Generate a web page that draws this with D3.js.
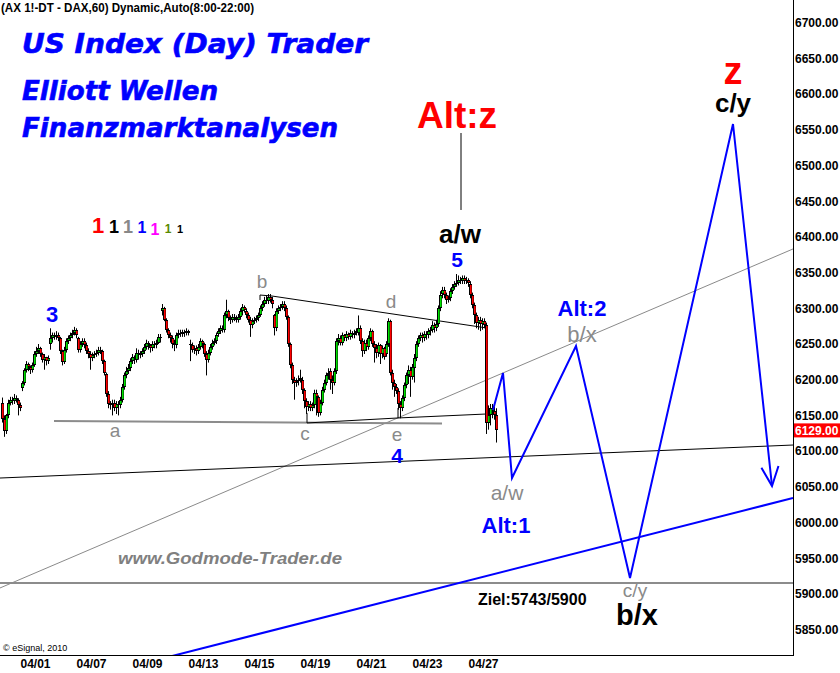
<!DOCTYPE html>
<html><head><meta charset="utf-8">
<script src="https://cdn.jsdelivr.net/npm/d3@7"></script>
<style>body{margin:0;background:#fff}svg{display:block}</style>
</head><body>
<svg id="c" width="840" height="673"></svg>
<script>
// ---------- data ----------
const days = ["03/31","04/01","04/06","04/07","04/08","04/09","04/12","04/13","04/14","04/15","04/16","04/19","04/20","04/21","04/22","04/23","04/26","04/27"];
const firstDayStartHour = 4; // 03/31 starts at 12:00
const axisDays = ["04/01","04/07","04/09","04/13","04/15","04/19","04/21","04/23","04/27"];
const yTicks = [5850,5900,5950,6000,6050,6100,6150,6200,6250,6300,6350,6400,6450,6500,6550,6600,6650,6700];
const lastPrice = 6129;

const opens = [
 [6168,6145,6128,6150,6168,6172,6170,6174,6172,6165],
 [6188,6195,6213,6222,6218,6214,6220,6236,6240,6244,6236,6228,6232,6226],
 [6250,6258,6262,6260,6263,6258,6240,6225,6242,6254,6258,6262,6266,6270],
 [6258,6242,6250,6254,6248,6240,6236,6230,6234,6236,6238,6242,6240,6226],
 [6208,6180,6166,6164,6168,6160,6166,6164,6172,6190,6206,6212,6216,6226],
 [6230,6228,6238,6234,6236,6240,6246,6252,6248,6244,6250,6248,6252,6260],
 [6296,6300,6284,6270,6262,6258,6250,6248,6262,6266,6264,6267,6265,6268],
 [6250,6248,6242,6244,6240,6246,6254,6250,6236,6228,6238,6246,6252,6254],
 [6264,6268,6272,6270,6290,6296,6286,6284,6288,6286,6284,6288,6296,6302],
 [6296,6290,6284,6276,6282,6284,6286,6290,6300,6306,6312,6310,6316,6312],
 [6290,6272,6296,6300,6302,6306,6300,6288,6250,6220,6200,6196,6198,6200],
 [6200,6185,6170,6162,6166,6160,6165,6182,6176,6154,6168,6186,6196,6206],
 [6212,6200,6196,6212,6254,6258,6252,6262,6258,6264,6260,6266,6262,6266],
 [6266,6272,6254,6240,6252,6246,6258,6268,6250,6244,6238,6248,6236,6244],
 [6236,6250,6282,6210,6196,6190,6184,6166,6160,6174,6192,6206,6214,6204],
 [6216,6230,6250,6258,6262,6258,6264,6262,6268,6270,6276,6272,6278,6300],
 [6320,6326,6318,6312,6314,6324,6330,6334,6336,6340,6338,6342,6338,6340],
 [6334,6318,6304,6290,6280,6284,6278,6282,6276,6140,6150,6160,6156,6150]
];
const highs = [
 [6175,6150,6152,6172,6176,6176,6180,6178,6174,6168],
 [6198,6216,6226,6224,6220,6224,6240,6246,6250,6246,6238,6236,6232,6234],
 [6272,6266,6266,6268,6266,6260,6242,6246,6258,6262,6266,6270,6274,6272],
 [6260,6254,6258,6258,6252,6244,6240,6238,6240,6242,6246,6246,6242,6228],
 [6210,6184,6170,6172,6172,6170,6170,6176,6194,6210,6218,6222,6230,6236],
 [6234,6244,6242,6240,6244,6250,6256,6254,6250,6254,6254,6256,6264,6264],
 [6306,6302,6286,6272,6266,6262,6256,6266,6270,6270,6270,6270,6272,6270],
 [6256,6252,6248,6248,6250,6258,6256,6252,6240,6242,6250,6256,6258,6266],
 [6272,6276,6276,6294,6312,6298,6290,6292,6292,6290,6292,6300,6306,6304],
 [6300,6294,6288,6286,6288,6290,6294,6304,6310,6316,6318,6320,6320,6316],
 [6292,6300,6304,6306,6310,6310,6304,6290,6252,6224,6204,6202,6206,6214],
 [6204,6188,6174,6170,6170,6168,6186,6186,6178,6172,6190,6200,6210,6216],
 [6216,6206,6216,6258,6264,6262,6266,6264,6268,6266,6270,6268,6270,6272],
 [6290,6276,6258,6256,6256,6262,6272,6270,6254,6250,6252,6250,6248,6246],
 [6254,6286,6284,6214,6200,6194,6188,6170,6178,6196,6210,6220,6218,6222],
 [6236,6254,6262,6266,6266,6268,6268,6272,6274,6282,6280,6284,6304,6324],
 [6330,6330,6322,6318,6328,6334,6338,6348,6346,6344,6346,6346,6344,6342],
 [6338,6322,6308,6294,6288,6288,6286,6286,6280,6164,6166,6166,6162,6160]
];
const lows = [
 [6140,6120,6124,6146,6164,6165,6166,6168,6150,6156],
 [6184,6192,6210,6212,6208,6210,6218,6232,6236,6232,6224,6214,6220,6222],
 [6242,6252,6256,6256,6254,6236,6220,6222,6238,6250,6254,6258,6262,6258],
 [6238,6238,6246,6244,6236,6230,6214,6226,6230,6232,6234,6236,6222,6206],
 [6176,6160,6158,6150,6156,6152,6150,6160,6168,6186,6202,6208,6212,6222],
 [6222,6224,6228,6230,6232,6236,6242,6242,6238,6240,6244,6244,6250,6252],
 [6290,6282,6266,6258,6252,6244,6240,6244,6258,6260,6260,6260,6262,6262],
 [6226,6238,6236,6234,6236,6242,6244,6232,6206,6224,6234,6242,6248,6250],
 [6260,6264,6266,6266,6286,6282,6278,6280,6282,6280,6280,6284,6290,6294],
 [6286,6280,6260,6272,6278,6280,6282,6288,6296,6302,6306,6306,6308,6300],
 [6262,6268,6292,6296,6298,6296,6284,6246,6216,6194,6172,6190,6192,6196],
 [6180,6160,6152,6156,6156,6156,6160,6150,6148,6150,6164,6182,6192,6200],
 [6186,6180,6192,6208,6248,6248,6248,6254,6254,6256,6256,6258,6258,6262],
 [6262,6250,6232,6236,6240,6242,6254,6246,6224,6230,6232,6222,6230,6228],
 [6232,6246,6206,6186,6176,6180,6158,6146,6156,6170,6188,6194,6176,6200],
 [6196,6226,6246,6254,6252,6254,6256,6258,6262,6266,6266,6268,6274,6296],
 [6314,6314,6306,6308,6310,6320,6326,6330,6332,6334,6334,6334,6334,6330],
 [6314,6300,6278,6272,6270,6268,6270,6272,6124,6130,6136,6146,6144,6112]
];
const closes = [
 [6145,6128,6150,6168,6172,6170,6174,6172,6165,6160],
 [6195,6213,6222,6218,6214,6220,6236,6240,6244,6236,6228,6232,6226,6230],
 [6258,6262,6260,6263,6258,6240,6225,6242,6254,6258,6262,6266,6270,6262],
 [6242,6250,6254,6248,6240,6236,6230,6234,6236,6238,6242,6240,6226,6210],
 [6180,6166,6164,6168,6160,6166,6164,6172,6190,6206,6212,6216,6226,6232],
 [6228,6238,6234,6236,6240,6246,6252,6248,6244,6250,6248,6252,6260,6258],
 [6300,6284,6270,6262,6258,6250,6248,6262,6266,6264,6267,6265,6268,6266],
 [6248,6242,6244,6240,6246,6254,6250,6236,6228,6238,6246,6252,6254,6262],
 [6268,6272,6270,6290,6296,6286,6284,6288,6286,6284,6288,6296,6302,6298],
 [6290,6284,6276,6282,6284,6286,6290,6300,6306,6312,6310,6316,6312,6306],
 [6272,6296,6300,6302,6306,6300,6288,6250,6220,6200,6196,6198,6200,6202],
 [6185,6170,6162,6166,6160,6165,6182,6176,6154,6168,6186,6196,6206,6210],
 [6200,6196,6212,6254,6258,6252,6262,6258,6264,6260,6266,6262,6266,6268],
 [6272,6254,6240,6252,6246,6258,6268,6250,6244,6238,6248,6236,6244,6232],
 [6250,6282,6210,6196,6190,6184,6166,6160,6174,6192,6206,6214,6204,6218],
 [6230,6250,6258,6262,6258,6264,6262,6268,6270,6276,6272,6278,6300,6318],
 [6326,6318,6312,6314,6324,6330,6334,6336,6340,6338,6342,6338,6340,6336],
 [6318,6304,6290,6280,6284,6278,6282,6276,6140,6150,6160,6156,6150,6129]
];

// analysis lines: [hourSlot, price]
const trendGray = [[3.5,5908.3],[400,6383.1]];
const trendBlack = [[3.5,6062.3],[400,6108.5]];
const trendBlue = [[89.5,5813],[400,6034.3]];
const zielLine = [[3.5,5915.3],[400,5915.3]];
const supportA = [[30.5,6142.2],[224.5,6138.7]];
const triangleTop = [[133.5,6311.6],[133.5,6318.6],[139.5,6317.2],[247,6272.4]];
const triangleBottom = [[157,6153.4],[157,6139.4],[202.5,6146.4],[247,6152]];
const eStem = [[202.5,6146.4],[202.5,6160.4]];
const altZStem = [[234,6545.5],[234,6437.7]];
const projSlots = [250,255,259.5,291.5,318.5,370,389.5];
const projPrices = [6157.6,6209.4,6062.3,6247.2,5922.3,6558.1,6051.1];

const labels = [
 {t:"Alt:z", s:232, p:6552.5, k:"altz"},
 {t:"a/w", s:233.5, p:6391.4, k:"blk26"},
 {t:"5", s:232, p:6357.8, k:"blue21"},
 {t:"3", s:29.5, p:6280.8, k:"blue22"},
 {t:"b", s:134.5, p:6328, k:"gray19"},
 {t:"d", s:199, p:6300, k:"gray19"},
 {t:"a", s:61, p:6119.7, k:"gray19"},
 {t:"c", s:156, p:6115.5, k:"gray19"},
 {t:"e", s:202, p:6114, k:"gray19"},
 {t:"4", s:202, p:6083.5, k:"blue21"},
 {t:"z", s:370, p:6614, k:"z"},
 {t:"c/y", s:370, p:6575, k:"blk26"},
 {t:"Alt:2", s:294.5, p:6289.2, k:"blue22"},
 {t:"b/x", s:294.5, p:6252.8, k:"gray22"},
 {t:"a/w", s:257, p:6031.5, k:"gray21"},
 {t:"Alt:1", s:256.5, p:5985.8, k:"blue22"},
 {t:"c/y", s:321, p:5896, k:"gray19"},
 {t:"b/x", s:322, p:5856.4, k:"blk29"},
 {t:"Ziel:5743/5900", s:242.5, p:5884.4, k:"ziel"},
 {t:"www.Godmode-Trader.de", s:62.5, p:5941.9, k:"gm"}
];
const degreeMarks = ["1","1","1","1","1","1","1"];
const titleLines = ["US Index (Day) Trader","Elliott Wellen","Finanzmarktanalysen"];
const headerText = "(AX 1!-DT - DAX,60) Dynamic,Auto(8:00-22:00)";

// ---------- drawing ----------
const svg = d3.select("#c");
const W = 793, H = 655;
const x = d3.scaleLinear().domain([0,400]).range([-7,793]);
const y = d3.scaleLinear().domain([5850,6700]).range([629.6,22.7]);
const F = "'Liberation Sans', Arial, sans-serif";

svg.append("defs").append("clipPath").attr("id","plot")
  .append("rect").attr("x",0).attr("y",0).attr("width",W).attr("height",H);
const g = svg.append("g").attr("clip-path","url(#plot)");
const line = d3.line().x(d=>x(d[0])).y(d=>y(d[1]));

// background lines
g.append("path").datum(zielLine).attr("d",line).attr("stroke","#8c8c8c").attr("stroke-width",2).attr("fill","none");
g.append("path").datum(trendGray).attr("d",line).attr("stroke","#8a8a8a").attr("stroke-width",1).attr("fill","none");
g.append("path").datum(trendBlack).attr("d",line).attr("stroke","#000").attr("stroke-width",1).attr("fill","none");
g.append("path").datum(trendBlue).attr("d",line).attr("stroke","#0000ff").attr("stroke-width",2).attr("fill","none");
g.append("path").datum(supportA).attr("d",line).attr("stroke","#8c8c8c").attr("stroke-width",2).attr("fill","none");
[triangleTop,triangleBottom,eStem,altZStem].forEach(l=>
  g.append("path").datum(l).attr("d",line).attr("stroke","#000").attr("stroke-width",1).attr("fill","none"));

// candles
const bars = [];
days.forEach((d,di)=>{
  closes[di].forEach((c,j)=>{
    const h = j + (di===0 ? firstDayStartHour : 0);
    bars.push({slot: di*14+h+0.5, o: opens[di][j], hi: highs[di][j], lo: lows[di][j], c});
  });
});
const cg = g.append("g");
const fg = g.append("g");
bars.forEach(b=>{
  const cx = Math.round(x(b.slot));
  cg.append("line").attr("x1",cx+0.5).attr("x2",cx+0.5)
    .attr("y1",y(b.hi)).attr("y2",y(b.lo)).attr("stroke","#000").attr("stroke-width",1);
  const top = Math.round(y(Math.max(b.o,b.c))), bot = Math.round(y(Math.min(b.o,b.c)));
  const hgt = Math.max(1, bot-top);
  cg.append("rect").attr("x",cx-1).attr("y",top).attr("width",3).attr("height",hgt).attr("fill","#000");
  if (hgt>2) fg.append("rect").attr("x",cx).attr("y",top+1).attr("width",1.6).attr("height",hgt-2)
    .attr("fill", b.c>=b.o ? "#00e000" : "#ff0000");
});

// projection path
const proj = projSlots.map((s,i)=>[s,projPrices[i]]);
g.append("path").datum(proj).attr("d",line).attr("stroke","#0000ff").attr("stroke-width",2)
  .attr("fill","none").attr("stroke-linejoin","miter");
{
  const a = proj[proj.length-2], b = proj[proj.length-1];
  const ex = x(b[0]), ey = y(b[1]);
  const ang = Math.atan2(y(a[1])-ey, x(a[0])-ex);
  const L = 21, sp = 0.42;
  const p1 = [ex+L*Math.cos(ang+sp), ey+L*Math.sin(ang+sp)];
  const p2 = [ex+L*Math.cos(ang-sp), ey+L*Math.sin(ang-sp)];
  g.append("path").attr("d",`M${p1}L${ex},${ey}L${p2}`).attr("stroke","#0000ff")
    .attr("stroke-width",2).attr("fill","none");
}

// axes
const yAxis = d3.axisRight(y).tickValues(yTicks).tickSize(0).tickPadding(2).tickFormat(d=>d.toFixed(2));
const ya = svg.append("g").attr("transform",`translate(${W},0)`).call(yAxis);
ya.select(".domain").remove();
ya.selectAll("text").attr("font-family",F).attr("font-weight","bold").attr("font-size",12).attr("fill","#000");

const daySlot = d => days.indexOf(d)*14+7;
const xAxis = d3.axisBottom(x).tickValues(axisDays.map(daySlot)).tickSize(0).tickPadding(4.5)
  .tickFormat(s=>days[Math.round((s-7)/14)]);
const xa = svg.append("g").attr("transform",`translate(0,${H})`).call(xAxis);
xa.select(".domain").remove();
xa.selectAll("text").attr("font-family",F).attr("font-weight","bold").attr("font-size",12).attr("fill","#000");

svg.append("line").attr("x1",W+0.5).attr("x2",W+0.5).attr("y1",0).attr("y2",H+1).attr("stroke","#000");
svg.append("line").attr("x1",0).attr("x2",W+1).attr("y1",H+0.5).attr("y2",H+0.5).attr("stroke","#000");

// last price tag
svg.append("rect").attr("x",W+1).attr("y",y(lastPrice)-7).attr("width",46).attr("height",14).attr("fill","#ff0000");
svg.append("text").attr("x",W+2).attr("y",y(lastPrice)).attr("dy","0.35em").text(lastPrice.toFixed(2))
  .attr("font-family",F).attr("font-weight","bold").attr("font-size",12).attr("fill","#fff");

// labels
const st = {
  altz:{c:"#ff0000",s:37,w:"bold"}, z:{c:"#ff0000",s:38,w:"bold"},
  blk26:{c:"#000",s:26,w:"bold"}, blk29:{c:"#000",s:29,w:"bold"},
  blue21:{c:"#0000ff",s:21,w:"bold"}, blue22:{c:"#0000ff",s:22,w:"bold"},
  gray19:{c:"#8a8a8a",s:19,w:"normal"},
  gray21:{c:"#8a8a8a",s:21,w:"normal"}, gray22:{c:"#8a8a8a",s:22,w:"normal"},
  ziel:{c:"#000",s:16,w:"bold",a:"start"}, gm:{c:"#808080",s:17,w:"bold",a:"start",i:1,len:224}
};
labels.forEach(l=>{
  const s = st[l.k];
  const t = svg.append("text").attr("x",x(l.s)).attr("y",y(l.p)).text(l.t)
    .attr("text-anchor",s.a||"middle").attr("font-family",F).attr("font-weight",s.w)
    .attr("font-size",s.s).attr("fill",s.c);
  if (s.i) t.attr("font-style","italic");
  if (s.len) t.attr("textLength",s.len).attr("lengthAdjust","spacingAndGlyphs");
});

// header / titles
svg.append("text").attr("x",1).attr("y",12).text(headerText).attr("font-family",F)
  .attr("font-weight","bold").attr("font-size",12).attr("fill","#000")
  .attr("textLength",253).attr("lengthAdjust","spacingAndGlyphs");
const tBase = [53,100,137], tLen = [346,196,316];
titleLines.forEach((t,i)=>{
  svg.append("text").attr("x",22).attr("y",tBase[i]).text(t)
    .attr("font-family","'DejaVu Sans', Verdana, sans-serif").attr("font-weight","bold")
    .attr("font-style","italic").attr("font-size",27).attr("fill","#0000ff")
    .attr("stroke","#0000ff").attr("stroke-width",0.6)
    .attr("textLength",tLen[i]).attr("lengthAdjust","spacingAndGlyphs");
});
const dmCol = ["#ff0000","#000000","#888888","#0000ff","#ff00ff","#5a8a00","#000000"];
const dmX = [98,114,128,142,155,168,180], dmSize=[22,18,18,16,16,12,11], dmBase=[233,233,233,233,235,233,233];
degreeMarks.forEach((m,i)=>{
  svg.append("text").attr("x",dmX[i]).attr("y",dmBase[i]).attr("text-anchor","middle").text(m)
    .attr("font-family",F).attr("font-weight","bold").attr("font-size",dmSize[i]).attr("fill",dmCol[i]);
});
svg.append("text").attr("x",3).attr("y",651).text("\u00a9 eSignal, 2010")
  .attr("font-family",F).attr("font-size",9).attr("fill","#000");
</script>
</body></html>
